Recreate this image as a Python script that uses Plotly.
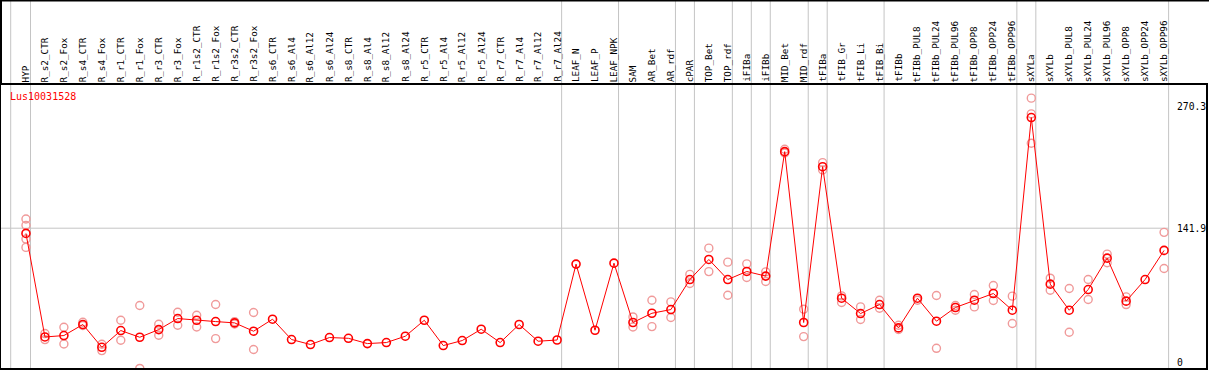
import plotly.graph_objects as go

categories = ["HYP", "R_s2_CTR", "R_s2_Fox", "R_s4_CTR", "R_s4_Fox", "R_r1_CTR", "R_r1_Fox",
              "R_r3_CTR", "R_r3_Fox", "R_r1s2_CTR", "R_r1s2_Fox", "R_r3s2_CTR", "R_r3s2_Fox",
              "R_s6_CTR", "R_s6_Al4", "R_s6_Al12", "R_s6_Al24", "R_s8_CTR", "R_s8_Al4", "R_s8_Al12",
              "R_s8_Al24", "R_r5_CTR", "R_r5_Al4", "R_r5_Al12", "R_r5_Al24", "R_r7_CTR", "R_r7_Al4",
              "R_r7_Al12", "R_r7_Al24", "LEAF_N", "LEAF_P", "LEAF_NPK", "SAM", "AR_Bet", "AR_rdf",
              "cPAR", "TOP_Bet", "TOP_rdf", "iFIBa", "iFIBb", "MID_Bet", "MID_rdf", "tFIBa",
              "tFIB_Gr", "tFIB_Li", "tFIB_Bi", "tFIBb", "tFIBb_PUL8", "tFIBb_PUL24", "tFIBb_PUL96",
              "tFIBb_OPP8", "tFIBb_OPP24", "tFIBb_OPP96", "sXYLa", "sXYLb", "sXYLb_PUL8",
              "sXYLb_PUL24", "sXYLb_PUL96", "sXYLb_OPP8", "sXYLb_OPP24", "sXYLb_OPP96"]

means = [136.4, 26.8, 28.3, 40.0, 15.9, 33.6, 26.5, 34.6, 46.3, 44.5, 43.1, 41.7, 32.9,
         45.6, 24.1, 18.8, 26.2, 25.4, 19.8, 20.9, 27.6, 44.5, 17.7, 23.0, 35.0, 20.9, 40.0,
         22.3, 23.6, 103.9, 33.9, 104.9, 42.1, 51.9, 55.8, 87.6, 108.8, 87.6, 96.1, 91.2,
         222.9, 42.1, 207.0, 67.8, 51.6, 61.1, 36.4, 67.8, 43.5, 58.0, 65.7, 72.8, 55.1,
         259.0, 82.7, 55.1, 77.0, 110.2, 64.7, 87.6, 118.4]

N = None
rep_a = [151.6, 30.4, 37.1, 42.4, 19.1, 44.5, 60.1, 40.3, 53.0, 49.8, 61.2, 43.0, 52.7,
         N, N, N, N, N, N, N, N, N, N, N, N, N, N, N, N, N, N, N,
         48.0, 65.7, 63.9, 93.0, 120.8, 106.0, 104.2, 95.7, 225.5, 56.2, 211.3, 70.3, 58.6,
         65.7, 39.2, 65.7, 70.7, 60.1, 71.7, 81.3, 70.0, 279.5, 89.0, 78.1, 87.6, 114.5,
         69.2, N, 137.5]
rep_b = [144.9, 24.0, 19.4, 38.9, 12.4, 23.3, -6.5, 28.6, 39.2, 37.4, 25.1, 40.5, 13.5,
         N, N, N, N, N, N, N, N, N, N, N, N, N, N, N, N, N, N, N,
         37.4, 37.8, 47.4, 83.4, 96.0, 71.0, 89.8, 85.5, 221.5, 27.2, 203.5, 63.3, 45.3,
         57.2, 34.7, N, 14.8, 55.1, 58.6, 65.4, 41.0, 262.9, 76.3, 31.8, 66.4, 105.3,
         61.1, N, 99.3]
rep_c = [130.4] + [N] * 52 + [231.8] + [N] * 7
rep_d = [121.6] + [N] * 60

group_ends = [0, 28, 31, 34, 35, 37, 38, 39, 41, 42, 45, 52, 53, 60]
axis_ticks = [0, 141.9, 270.3]
gene = "Lus10031528"

W, H = 1209, 370
L, R, T, B = 1, 1, 85, 2
plot_h = H - T - B
x_idx = list(range(len(categories)))

rep_x, rep_y = [], []
for reps in (rep_a, rep_b, rep_c, rep_d):
    for i, v in enumerate(reps):
        if v is not None:
            rep_x.append(i)
            rep_y.append(v)

fig = go.Figure()
fig.add_trace(go.Scatter(
    x=rep_x, y=rep_y, mode="markers",
    marker=dict(symbol="circle-open", size=8, color="#f09a9a", line=dict(width=1.4)),
    hoverinfo="skip", showlegend=False))
fig.add_trace(go.Scatter(
    x=x_idx, y=means, mode="lines+markers",
    line=dict(color="#ff0000", width=1),
    marker=dict(symbol="circle-open", size=8, color="#ff0000", line=dict(width=1.6)),
    showlegend=False))

shapes = []
top_paper = (H - B - 0.5) / plot_h
grid_x = [-0.805] + [g + 0.24 for g in group_ends]
for gx in grid_x:
    shapes.append(dict(type="line", xref="x", yref="paper", x0=gx, x1=gx, y0=0, y1=top_paper,
                       line=dict(color="#c4c4c4", width=1), layer="below"))
shapes.append(dict(type="line", xref="x", yref="y", x0=-1.4, x1=60.24, y0=141.9, y1=141.9,
                   line=dict(color="#c4c4c4", width=1), layer="below"))
# outer frame parts above plot area
shapes.append(dict(type="line", xref="paper", yref="paper", x0=-1, x1=2, y0=top_paper, y1=top_paper,
                   line=dict(color="black", width=2)))
shapes.append(dict(type="line", xref="paper", yref="paper", x0=0, x1=0, y0=1, y1=top_paper,
                   line=dict(color="black", width=2)))

annotations = []
label_y = 1 + 2.0 / plot_h
for i, c in enumerate(categories):
    annotations.append(dict(x=i, y=label_y, xref="x", yref="paper", text=c, showarrow=False,
                            textangle=-90, xanchor="center", yanchor="bottom",
                            font=dict(family="DejaVu Sans Mono", size=9.3, color="black"),
                            borderpad=0))
annotations.append(dict(x=8 / 1207, y=(H - B - 97) / plot_h, xref="paper", yref="paper", text=gene,
                        showarrow=False, xanchor="left", yanchor="middle",
                        font=dict(family="DejaVu Sans Mono", size=10, color="#ff0000"), borderpad=0))
for t in axis_ticks:
    annotations.append(dict(x=(1178 - L) / 1207, y=t, xref="paper", yref="y", text=f"{t:g}",
                            showarrow=False, xanchor="left", yanchor="middle",
                            font=dict(family="DejaVu Sans Mono", size=9.7, color="black"),
                            borderpad=0))

px_per_cat = 19.0
x0_pix = 26.0
xr = [0 - (x0_pix - L) / px_per_cat, 0 + (W - R - x0_pix) / px_per_cat]
scale = (362.3 - 228.2) / 141.9
yr = [(362.3 - (H - B)) / scale, (362.3 - T) / scale]

fig.update_layout(
    width=W, height=H, margin=dict(l=L, r=R, t=T, b=B, pad=0),
    paper_bgcolor="white", plot_bgcolor="white",
    xaxis=dict(range=xr, showgrid=False, zeroline=False, showticklabels=False, ticks="",
               showline=True, mirror=True, linecolor="black", linewidth=2),
    yaxis=dict(range=yr, showgrid=False, zeroline=False, showticklabels=False, ticks="",
               showline=True, mirror=True, linecolor="black", linewidth=2),
    shapes=shapes, annotations=annotations, showlegend=False,
)
fig.write_html("out.html", config={"displayModeBar": False},
               post_script="document.body.style.margin='0';document.body.style.overflow='hidden';")
